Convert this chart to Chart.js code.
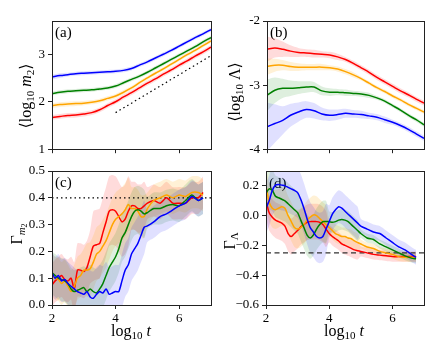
<!DOCTYPE html>
<html>
<head>
<meta charset="utf-8">
<script src="https://cdn.jsdelivr.net/npm/chart.js@4.4.1/dist/chart.umd.min.js"></script>
<style>
  body { margin: 0; background: #fff; }
  canvas { position: absolute; }
</style>
</head>
<body>
<canvas id="pa" width="220" height="160" style="left:0;top:0"></canvas>
<canvas id="pb" width="221" height="160" style="left:220px;top:0"></canvas>
<canvas id="pc" width="220" height="204" style="left:0;top:150px"></canvas>
<canvas id="pd" width="221" height="204" style="left:220px;top:150px"></canvas>
<script>
// ---- data ----
const xTop = [2, 2.25, 2.5, 2.75, 3, 3.25, 3.5, 3.75, 4, 4.25, 4.5, 4.75, 5, 5.25, 5.5, 5.75, 6, 6.25, 6.5, 6.75, 7];
const xBottom = [2.0, 2.1, 2.2, 2.3, 2.4, 2.5, 2.6, 2.7, 2.8, 2.9, 3.0, 3.1, 3.2, 3.3, 3.4, 3.5, 3.6, 3.7, 3.8, 3.9,
                 4.0, 4.1, 4.2, 4.3, 4.4, 4.5, 4.6, 4.7, 4.8, 4.9, 5.0, 5.2, 5.4, 5.6, 5.8, 6.0, 6.2, 6.4, 6.6, 6.75];

// (a) <log10 m2>
const m2Red    = [1.67, 1.69, 1.71, 1.72, 1.74, 1.77, 1.83, 1.92, 2.00, 2.10, 2.19, 2.29, 2.39, 2.48, 2.58, 2.67, 2.77, 2.86, 2.96, 3.05, 3.15];
const m2Orange = [1.92, 1.94, 1.95, 1.96, 1.97, 1.99, 2.02, 2.07, 2.12, 2.20, 2.29, 2.40, 2.50, 2.60, 2.69, 2.79, 2.89, 2.99, 3.08, 3.18, 3.28];
const m2Green  = [2.17, 2.20, 2.22, 2.23, 2.24, 2.25, 2.27, 2.29, 2.33, 2.40, 2.47, 2.54, 2.62, 2.71, 2.80, 2.89, 2.98, 3.07, 3.16, 3.26, 3.35];
const m2Blue   = [2.52, 2.55, 2.57, 2.59, 2.60, 2.61, 2.62, 2.63, 2.64, 2.66, 2.70, 2.77, 2.84, 2.92, 3.00, 3.08, 3.17, 3.26, 3.35, 3.43, 3.52];
const m2SdRed    = [0.05, 0.05, 0.05, 0.05, 0.05, 0.05, 0.05, 0.05, 0.05, 0.05, 0.05, 0.05, 0.05, 0.05, 0.05, 0.05, 0.05, 0.05, 0.05, 0.05, 0.05];
const m2SdOrange = [0.05, 0.05, 0.05, 0.05, 0.045, 0.045, 0.045, 0.045, 0.045, 0.045, 0.04, 0.04, 0.04, 0.04, 0.04, 0.04, 0.04, 0.04, 0.04, 0.04, 0.04];
const m2SdGreen  = [0.04, 0.04, 0.04, 0.04, 0.04, 0.04, 0.04, 0.04, 0.04, 0.04, 0.04, 0.04, 0.04, 0.04, 0.04, 0.04, 0.04, 0.04, 0.04, 0.04, 0.04];
const m2SdBlue   = [0.05, 0.05, 0.04, 0.04, 0.04, 0.04, 0.04, 0.04, 0.04, 0.04, 0.04, 0.04, 0.04, 0.04, 0.04, 0.04, 0.04, 0.04, 0.04, 0.04, 0.04];
const slopeX = [4, 7];
const slopeY = [1.77, 2.97];

// (b) <log10 Lambda>
const lamRed    = [-2.44, -2.42, -2.44, -2.47, -2.49, -2.50, -2.51, -2.52, -2.53, -2.56, -2.60, -2.66, -2.73, -2.80, -2.88, -2.95, -3.02, -3.09, -3.15, -3.22, -3.28];
const lamOrange = [-2.71, -2.69, -2.69, -2.71, -2.72, -2.72, -2.72, -2.72, -2.73, -2.75, -2.79, -2.84, -2.90, -2.97, -3.04, -3.10, -3.17, -3.23, -3.30, -3.36, -3.42];
const lamGreen  = [-3.16, -3.08, -3.05, -3.05, -3.04, -3.03, -3.03, -3.09, -3.11, -3.11, -3.12, -3.13, -3.14, -3.16, -3.20, -3.25, -3.32, -3.39, -3.47, -3.54, -3.62];
const lamBlue   = [-3.65, -3.60, -3.55, -3.47, -3.42, -3.38, -3.40, -3.45, -3.47, -3.46, -3.44, -3.45, -3.46, -3.48, -3.50, -3.54, -3.58, -3.63, -3.69, -3.76, -3.83];
const lamSdRed    = [0.20, 0.15, 0.12, 0.09, 0.07, 0.06, 0.06, 0.05, 0.05, 0.05, 0.04, 0.04, 0.04, 0.04, 0.04, 0.04, 0.04, 0.04, 0.04, 0.04, 0.04];
const lamSdOrange = [0.13, 0.10, 0.08, 0.07, 0.06, 0.05, 0.05, 0.05, 0.04, 0.04, 0.04, 0.04, 0.03, 0.03, 0.03, 0.03, 0.03, 0.03, 0.03, 0.03, 0.03];
const lamSdGreen  = [0.25, 0.20, 0.15, 0.12, 0.10, 0.09, 0.08, 0.07, 0.06, 0.05, 0.05, 0.04, 0.04, 0.04, 0.03, 0.03, 0.03, 0.03, 0.03, 0.03, 0.03];
const lamSdBlue   = [0.38, 0.30, 0.22, 0.18, 0.15, 0.13, 0.12, 0.10, 0.09, 0.08, 0.07, 0.06, 0.06, 0.05, 0.05, 0.05, 0.04, 0.04, 0.04, 0.04, 0.04];

// (c) Gamma_m2
const gmRed    = [0.075, 0.09, 0.10, 0.11, 0.095, 0.09, 0.10, 0.06, 0.13, 0.13, 0.125, 0.14, 0.18, 0.22, 0.225, 0.23, 0.27, 0.31, 0.35, 0.355,
                  0.35, 0.33, 0.31, 0.32, 0.35, 0.37, 0.37, 0.36, 0.36, 0.37, 0.38, 0.39, 0.38, 0.40, 0.38, 0.38, 0.38, 0.40, 0.40, 0.42];
const gmOrange = [0.11, 0.10, 0.095, 0.08, 0.09, 0.07, 0.05, 0.07, 0.10, 0.11, 0.13, 0.13, 0.135, 0.16, 0.19, 0.20, 0.22, 0.24, 0.27, 0.30,
                  0.32, 0.33, 0.34, 0.355, 0.375, 0.36, 0.36, 0.35, 0.33, 0.33, 0.36, 0.39, 0.40, 0.41, 0.40, 0.41, 0.405, 0.42, 0.42, 0.41];
const gmGreen  = [0.12, 0.11, 0.10, 0.095, 0.09, 0.08, 0.06, 0.05, 0.055, 0.06, 0.065, 0.05, 0.06, 0.05, 0.045, 0.06, 0.08, 0.11, 0.14, 0.16,
                  0.18, 0.21, 0.25, 0.27, 0.30, 0.33, 0.35, 0.355, 0.35, 0.34, 0.345, 0.36, 0.36, 0.37, 0.375, 0.37, 0.39, 0.41, 0.39, 0.40];
const gmBlue   = [0.12, 0.10, 0.11, 0.09, 0.095, 0.08, 0.07, 0.06, 0.05, 0.045, 0.04, 0.05, 0.03, 0.025, 0.04, 0.05, 0.045, 0.06, 0.04, 0.045,
                  0.05, 0.05, 0.09, 0.13, 0.15, 0.19, 0.21, 0.23, 0.26, 0.29, 0.295, 0.31, 0.33, 0.34, 0.355, 0.37, 0.38, 0.405, 0.39, 0.40];
const gmSdRed    = [0.08, 0.08, 0.08, 0.08, 0.08, 0.08, 0.08, 0.10, 0.10, 0.10, 0.10, 0.10, 0.10, 0.13, 0.13, 0.13, 0.13, 0.13, 0.13, 0.13,
                    0.13, 0.13, 0.13, 0.13, 0.13, 0.09, 0.09, 0.09, 0.09, 0.09, 0.06, 0.06, 0.06, 0.06, 0.06, 0.06, 0.06, 0.06, 0.06, 0.06];
const gmSdOrange = [0.08, 0.08, 0.08, 0.08, 0.08, 0.08, 0.08, 0.08, 0.08, 0.08, 0.08, 0.10, 0.10, 0.10, 0.10, 0.10, 0.10, 0.10, 0.10, 0.10,
                    0.10, 0.10, 0.10, 0.10, 0.10, 0.08, 0.08, 0.08, 0.08, 0.08, 0.06, 0.06, 0.06, 0.06, 0.06, 0.06, 0.06, 0.06, 0.06, 0.06];
const gmSdGreen  = [0.08, 0.08, 0.08, 0.08, 0.08, 0.08, 0.08, 0.08, 0.08, 0.08, 0.08, 0.09, 0.09, 0.09, 0.09, 0.09, 0.09, 0.09, 0.09, 0.09,
                    0.09, 0.09, 0.09, 0.09, 0.09, 0.09, 0.09, 0.09, 0.09, 0.09, 0.06, 0.06, 0.06, 0.06, 0.06, 0.06, 0.06, 0.06, 0.06, 0.06];
const gmSdBlue   = [0.08, 0.08, 0.08, 0.08, 0.08, 0.08, 0.08, 0.08, 0.08, 0.08, 0.08, 0.10, 0.10, 0.10, 0.10, 0.10, 0.10, 0.10, 0.10, 0.10,
                    0.10, 0.10, 0.10, 0.10, 0.10, 0.10, 0.10, 0.10, 0.10, 0.10, 0.06, 0.06, 0.06, 0.06, 0.06, 0.06, 0.06, 0.06, 0.06, 0.06];
const gmRefX = [2, 7];
const gmRefY = [0.4, 0.4];

// (d) Gamma_Lambda
const glRed    = [0.10, 0.02, -0.01, -0.03, -0.04, -0.05, -0.07, -0.12, -0.14, -0.12, -0.10, -0.075, -0.06, -0.045, -0.04, -0.04, -0.04, -0.045, -0.06, -0.09,
                  -0.12, -0.14, -0.155, -0.17, -0.19, -0.20, -0.21, -0.22, -0.23, -0.235, -0.24, -0.25, -0.26, -0.265, -0.27, -0.275, -0.275, -0.275, -0.275, -0.275];
const glOrange = [0.20, 0.09, 0.05, 0.04, 0.05, 0.06, 0.05, 0.0, -0.04, -0.08, -0.09, -0.08, -0.06, -0.03, -0.01, 0.005, 0.0, -0.02, -0.04, -0.06,
                  -0.08, -0.10, -0.12, -0.13, -0.14, -0.14, -0.15, -0.155, -0.17, -0.18, -0.19, -0.21, -0.22, -0.24, -0.25, -0.26, -0.275, -0.28, -0.28, -0.28];
const glGreen  = [0.15, 0.18, 0.17, 0.13, 0.12, 0.11, 0.10, 0.08, 0.06, 0.04, 0.02, -0.03, -0.08, -0.13, -0.15, -0.13, -0.09, -0.06, -0.04, -0.04,
                  -0.04, -0.045, -0.04, -0.03, -0.025, -0.03, -0.04, -0.06, -0.08, -0.10, -0.12, -0.15, -0.16, -0.19, -0.21, -0.23, -0.25, -0.27, -0.285, -0.29];
const glBlue   = [0.05, 0.10, 0.17, 0.205, 0.21, 0.205, 0.20, 0.19, 0.18, 0.17, 0.155, 0.11, 0.05, -0.02, -0.08, -0.11, -0.14, -0.15, -0.14, -0.09,
                  -0.04, 0.01, 0.04, 0.06, 0.05, 0.03, 0.01, -0.01, -0.03, -0.05, -0.07, -0.09, -0.11, -0.12, -0.15, -0.18, -0.21, -0.23, -0.26, -0.28];
const glSdRed    = [0.12, 0.12, 0.12, 0.12, 0.12, 0.12, 0.12, 0.12, 0.12, 0.12, 0.12, 0.12, 0.12, 0.12, 0.12, 0.12, 0.12, 0.12, 0.12, 0.12,
                    0.06, 0.06, 0.06, 0.06, 0.06, 0.06, 0.06, 0.06, 0.06, 0.06, 0.035, 0.035, 0.035, 0.035, 0.035, 0.035, 0.035, 0.035, 0.035, 0.035];
const glSdOrange = [0.13, 0.13, 0.13, 0.13, 0.13, 0.13, 0.13, 0.13, 0.13, 0.13, 0.13, 0.13, 0.13, 0.13, 0.13, 0.13, 0.13, 0.13, 0.13, 0.13,
                    0.06, 0.06, 0.06, 0.06, 0.06, 0.06, 0.06, 0.06, 0.06, 0.06, 0.03, 0.03, 0.03, 0.03, 0.03, 0.03, 0.03, 0.03, 0.03, 0.03];
const glSdGreen  = [0.14, 0.14, 0.14, 0.14, 0.14, 0.14, 0.14, 0.14, 0.14, 0.14, 0.14, 0.14, 0.14, 0.14, 0.14, 0.14, 0.14, 0.14, 0.14, 0.14,
                    0.07, 0.07, 0.07, 0.07, 0.07, 0.07, 0.07, 0.07, 0.07, 0.07, 0.03, 0.03, 0.03, 0.03, 0.03, 0.03, 0.03, 0.03, 0.03, 0.03];
const glSdBlue   = [0.17, 0.17, 0.17, 0.17, 0.17, 0.17, 0.17, 0.17, 0.17, 0.17, 0.17, 0.17, 0.17, 0.17, 0.17, 0.17, 0.17, 0.17, 0.17, 0.17,
                    0.11, 0.11, 0.11, 0.11, 0.11, 0.11, 0.11, 0.11, 0.11, 0.11, 0.05, 0.05, 0.05, 0.05, 0.05, 0.05, 0.05, 0.05, 0.05, 0.05];
const glRefX = [2, 7];
const glRefY = [-0.25, -0.25];

// ticks
const xTicks = [2, 4, 6];
const yTicksA = [1, 2, 3];
const yTicksB = [-4, -3, -2];
const yTicksC = [0, 0.1, 0.2, 0.3, 0.4, 0.5];
const yTicksD = [-0.6, -0.4, -0.2, 0, 0.2];

// ---- drawing ----
const SERIF = '"Liberation Serif", "DejaVu Serif", serif';
const LINE = { red: '#ff0000', orange: '#ffa500', green: '#008000', blue: '#0000ff' };
const BAND = { red: 'rgba(255,0,0,0.14)', orange: 'rgba(255,165,0,0.16)', green: 'rgba(0,128,0,0.13)', blue: 'rgba(0,0,255,0.12)' };

function pts(xs, ys) {
    return xs.map((x, i) => ({ x: x, y: ys[i] }));
}

// list: [[colour, values, spread], ...], topmost first
function seriesSets(xs, list, tension) {
    const lines = list.map(([c, v]) => ({
        data: pts(xs, v), borderColor: LINE[c], borderWidth: 1.5,
        pointRadius: 0, fill: false, tension: tension, order: 0
    }));
    const bands = [];
    list.forEach(([c, v, sd]) => {
        bands.push({ data: pts(xs, v.map((y, i) => y + sd[i])), borderWidth: 0, borderColor: 'transparent',
                     pointRadius: 0, fill: false, tension: tension, order: 2 });
        bands.push({ data: pts(xs, v.map((y, i) => y - sd[i])), borderWidth: 0, borderColor: 'transparent',
                     pointRadius: 0, fill: '-1', backgroundColor: BAND[c], tension: tension, order: 2 });
    });
    return lines.concat(bands);
}

function refLine(xs, ys, dash, color) {
    return { data: pts(xs, ys), borderColor: color, borderWidth: 1.2, borderDash: dash,
             pointRadius: 0, fill: false, order: 1 };
}

function drawRich(ctx, parts, x, y, rotate) {
    ctx.save();
    ctx.translate(x, y);
    if (rotate) ctx.rotate(-Math.PI / 2);
    ctx.fillStyle = '#000';
    ctx.textBaseline = 'middle';
    const fontOf = p => (p[3] ? 'italic ' : '') + p[1] + 'px ' + SERIF;
    let w = 0;
    parts.forEach(p => { ctx.font = fontOf(p); w += ctx.measureText(p[0]).width; });
    let cx = -w / 2;
    parts.forEach(p => {
        ctx.font = fontOf(p);
        ctx.fillText(p[0], cx, p[2] || 0);
        cx += ctx.measureText(p[0]).width;
    });
    ctx.restore();
}

const panelText = {
    id: 'panelText',
    beforeDatasetsDraw(chart, args, o) {
        const ctx = chart.ctx;
        ctx.save();
        ctx.font = '15px ' + SERIF;
        ctx.fillStyle = '#000';
        ctx.textBaseline = 'middle';
        ctx.fillText(o.label, chart.chartArea.left + 3, chart.chartArea.top + o.labelDy);
        ctx.restore();
    },
    afterDraw(chart, args, o) {
        const ctx = chart.ctx, a = chart.chartArea;
        ctx.save();
        ctx.strokeStyle = '#222';
        ctx.lineWidth = 1;
        ctx.strokeRect(Math.round(a.left) + 0.5, Math.round(a.top) + 0.5, Math.round(a.right - a.left), Math.round(a.bottom - a.top));
        ctx.restore();
        drawRich(ctx, o.yTitle, o.yTitleX, o.yTitleY, true);
        if (o.xTitle) drawRich(ctx, o.xTitle, o.xTitleX, o.xTitleY, false);
    }
};

function makePanel(id, datasets, o) {
    const tickFont = { family: SERIF, size: 13 };
    new Chart(document.getElementById(id), {
        type: 'line',
        data: { datasets: datasets },
        options: {
            responsive: false,
            animation: false,
            events: [],
            layout: { padding: { left: 0, right: o.padRight, top: 21, bottom: 0 } },
            plugins: {
                legend: { display: false },
                tooltip: { enabled: false },
                panelText: o.text
            },
            scales: {
                x: {
                    type: 'linear', min: 2, max: 7,
                    afterBuildTicks: s => { s.ticks = xTicks.map(v => ({ value: v })); },
                    afterFit: s => { s.height = o.xHeight; },
                    ticks: { display: o.xLabels, font: tickFont, color: '#000', padding: 2, maxRotation: 0,
                             callback: v => String(v) },
                    grid: { drawOnChartArea: false, tickLength: 4, color: '#222' },
                    border: { color: '#222' }
                },
                y: {
                    type: 'linear', min: o.yMin, max: o.yMax,
                    afterBuildTicks: s => { s.ticks = o.yTicks.map(v => ({ value: v })); },
                    afterFit: s => { s.width = o.yWidth; },
                    ticks: { font: tickFont, color: '#000', padding: 3, callback: o.fmt },
                    grid: { drawOnChartArea: false, tickLength: 4, color: '#222' },
                    border: { color: '#222' }
                }
            }
        },
        plugins: [panelText]
    });
}

const xTitle = [['log', 16], ['10', 11, 4], [' ', 16], ['t', 16, 0, true]];

makePanel('pa',
    seriesSets(xTop, [['blue', m2Blue, m2SdBlue], ['green', m2Green, m2SdGreen],
                      ['orange', m2Orange, m2SdOrange], ['red', m2Red, m2SdRed]], 0.3)
        .concat([refLine(slopeX, slopeY, [1.5, 3], '#000')]),
    { padRight: 9, yWidth: 52, xHeight: 6, xLabels: false, yMin: 1, yMax: 3.7, yTicks: yTicksA,
      fmt: v => String(v),
      text: { label: '(a)', labelDy: 12,
              yTitle: [['⟨log', 16], ['10', 11, 4], [' ', 16], ['m', 16, 0, true], ['2', 11, 4], ['⟩', 16]],
              yTitleX: 27, yTitleY: 96 } });

makePanel('pb',
    seriesSets(xTop, [['blue', lamBlue, lamSdBlue], ['green', lamGreen, lamSdGreen],
                      ['orange', lamOrange, lamSdOrange], ['red', lamRed, lamSdRed]], 0.3),
    { padRight: 17, yWidth: 47, xHeight: 6, xLabels: false, yMin: -4, yMax: -2, yTicks: yTicksB,
      fmt: v => String(v),
      text: { label: '(b)', labelDy: 12,
              yTitle: [['⟨log', 16], ['10', 11, 4], [' ', 16], ['Λ', 16], ['⟩', 16]],
              yTitleX: 16, yTitleY: 92 } });

makePanel('pc',
    seriesSets(xBottom, [['blue', gmBlue, gmSdBlue], ['green', gmGreen, gmSdGreen],
                         ['orange', gmOrange, gmSdOrange], ['red', gmRed, gmSdRed]], 0.25)
        .concat([refLine(gmRefX, gmRefY, [1.5, 3], '#000')]),
    { padRight: 9, yWidth: 52, xHeight: 49, xLabels: true, yMin: 0, yMax: 0.5, yTicks: yTicksC,
      fmt: v => v.toFixed(1),
      text: { label: '(c)', labelDy: 12,
              yTitle: [['Γ', 16], ['m', 11, 4, true], ['2', 8, 7]],
              yTitleX: 18, yTitleY: 84,
              xTitle: xTitle, xTitleX: 131, xTitleY: 182 } });

makePanel('pd',
    seriesSets(xBottom, [['blue', glBlue, glSdBlue], ['green', glGreen, glSdGreen],
                         ['orange', glOrange, glSdOrange], ['red', glRed, glSdRed]], 0.25)
        .concat([refLine(glRefX, glRefY, [5, 3.5], '#333')]),
    { padRight: 17, yWidth: 46, xHeight: 49, xLabels: true, yMin: -0.6, yMax: 0.3, yTicks: yTicksD,
      fmt: v => v.toFixed(1).replace('-', '\u2212'),
      text: { label: '(d)', labelDy: 13,
              yTitle: [['Γ', 16], ['Λ', 11, 4]],
              yTitleX: 11, yTitleY: 91,
              xTitle: xTitle, xTitleX: 124, xTitleY: 182 } });
</script>
</body>
</html>
